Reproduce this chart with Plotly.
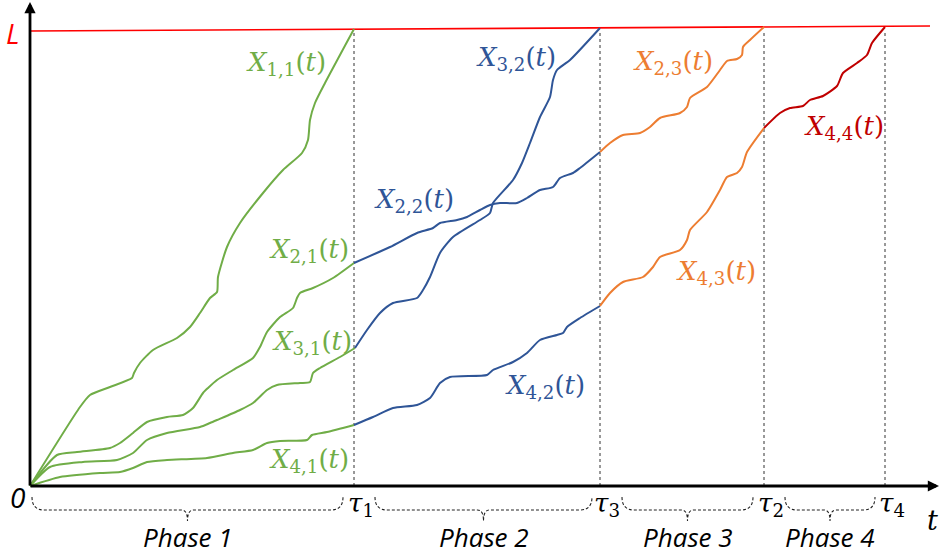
import plotly.graph_objects as go

# ---- data (t, X) ----
L_t = [0, 900]
L_v = [455, 460]

tau_names = ["1", "3", "2", "4"]
tau_vals = [324, 570, 734, 855]

x11_t = [0, 50, 60, 80, 102, 104, 110, 123, 147, 160, 170, 180, 187, 188, 197, 210, 233, 253, 272, 278, 280, 285, 295, 324]
x11_v = [0, 79, 91, 99, 108, 113, 123, 136, 148, 159, 173, 188, 194, 209, 239, 263, 293, 316, 333, 346, 366, 383, 403, 457]

x21_t = [0, 27, 47, 80, 90, 103, 117, 137, 153, 163, 173, 178, 187, 203, 223, 230, 237, 250, 263, 267, 270, 283, 303, 324]
x21_v = [0, 31, 34, 38, 43, 53, 64, 69, 71, 78, 93, 98, 106, 116, 128, 139, 154, 169, 178, 188, 193, 198, 208, 223]

x31_t = [0, 20, 53, 87, 103, 117, 137, 170, 180, 187, 210, 223, 237, 247, 270, 280, 283, 290, 310, 325]
x31_v = [0, 19, 24, 26, 33, 46, 53, 59, 63, 66, 76, 83, 96, 101, 103, 104, 113, 118, 129, 138]

x41_t = [0, 30, 70, 90, 103, 117, 137, 177, 203, 223, 237, 250, 277, 282, 297, 324]
x41_v = [0, 9, 13, 14, 18, 24, 26, 28, 33, 36, 43, 45, 46, 51, 54, 61]

x22_t = [324, 360, 387, 403, 410, 427, 437, 450, 460, 470, 487, 497, 510, 523, 530, 543, 550, 570]
x22_v = [223, 239, 253, 258, 263, 266, 269, 276, 281, 283, 283, 288, 296, 299, 308, 313, 318, 334]

x32_t = [325, 337, 350, 363, 387, 393, 400, 410, 423, 450, 460, 463, 483, 492, 500, 510, 520, 523, 527, 540, 570]
x32_v = [138, 156, 173, 183, 188, 196, 209, 233, 249, 266, 273, 283, 306, 323, 343, 369, 389, 406, 416, 426, 458]

x42_t = [324, 343, 363, 387, 400, 410, 420, 457, 463, 483, 497, 510, 527, 533, 537, 550, 570]
x42_v = [61, 69, 78, 81, 88, 103, 109, 111, 116, 124, 133, 146, 151, 153, 159, 168, 180]

x23_t = [570, 580, 593, 610, 620, 630, 650, 657, 660, 677, 690, 697, 707, 712, 713, 720, 734]
x23_v = [334, 343, 351, 353, 359, 368, 373, 379, 388, 399, 416, 425, 427, 431, 439, 446, 459]

x43_t = [570, 580, 593, 613, 623, 630, 650, 657, 660, 677, 690, 697, 707, 712, 717, 734]
x43_v = [180, 193, 204, 209, 219, 229, 236, 246, 256, 274, 296, 309, 313, 319, 334, 358]

x44_t = [734, 750, 760, 773, 780, 793, 807, 813, 827, 837, 842, 855]
x44_v = [358, 373, 378, 380, 386, 390, 400, 413, 423, 431, 443, 459]

phase_names = ["Phase 1", "Phase 2", "Phase 3", "Phase 4"]
phase_starts = [2, 345, 592, 755]
phase_ends = [313, 562, 723, 845]

GREEN = "#70AD47"
BLUE = "#2F5597"
ORANGE = "#ED7D31"
DRED = "#C00000"
RED = "#FF0000"

curves = [
    (x11_t, x11_v, GREEN), (x21_t, x21_v, GREEN), (x31_t, x31_v, GREEN), (x41_t, x41_v, GREEN),
    (x22_t, x22_v, BLUE), (x32_t, x32_v, BLUE), (x42_t, x42_v, BLUE),
    (x23_t, x23_v, ORANGE), (x43_t, x43_v, ORANGE),
    (x44_t, x44_v, DRED),
]

labels = [
    ("1,1", 256, 423, GREEN), ("2,1", 279, 236, GREEN), ("3,1", 282, 144, GREEN), ("4,1", 279, 26, GREEN),
    ("3,2", 486, 428, BLUE), ("2,2", 384, 286, BLUE), ("4,2", 515, 100, BLUE),
    ("2,3", 643, 424, ORANGE), ("4,3", 686, 214, ORANGE),
    ("4,4", 814, 359, DRED),
]

fig = go.Figure()

fig.add_trace(go.Scatter(x=L_t, y=L_v, mode="lines", line=dict(color=RED, width=1.6),
                         hoverinfo="skip", showlegend=False))

for tv in tau_vals:
    fig.add_trace(go.Scatter(x=[tv, tv], y=[0, 456], mode="lines",
                             line=dict(color="#333333", width=1, dash="dot"),
                             hoverinfo="skip", showlegend=False))

for t, v, c in curves:
    fig.add_trace(go.Scatter(x=t, y=v, mode="lines",
                             line=dict(color=c, width=2, shape="spline", smoothing=0.6),
                             hoverinfo="skip", showlegend=False))

MATH = "DejaVu Serif"
SANS = "Open Sans"
anns = []
for sub, x, y, c in labels:
    anns.append(dict(x=x, y=y, xref="x", yref="y", showarrow=False,
                     text=f"<i>X</i><sub>{sub}</sub>(<i>t</i>)",
                     font=dict(family=MATH, size=26, color=c)))

for name, tv in zip(tau_names, tau_vals):
    anns.append(dict(x=tv + 7, y=-18, xref="x", yref="y", showarrow=False,
                     text=f"<i>τ</i><sub>{name}</sub>",
                     font=dict(family=MATH, size=26, color="black")))

anns.append(dict(x=902, y=-34, xref="x", yref="y", showarrow=False,
                 text="<i>t</i>", font=dict(family=MATH, size=27, color="black")))
anns.append(dict(x=-13, y=-11, xref="x", yref="y", showarrow=False,
                 text="<i>0</i>", font=dict(family=SANS, size=28, color="black")))
anns.append(dict(x=-18, y=453, xref="x", yref="y", showarrow=False,
                 text="<i>L</i>", font=dict(family=SANS, size=28, color=RED)))

for name, a, b in zip(phase_names, phase_starts, phase_ends):
    mid = (a + b) / 2
    anns.append(dict(x=mid, y=-51, xref="x", yref="y", showarrow=False,
                     text=f"<i>{name}</i>", font=dict(family=SANS, size=26, color="black")))

# axes arrows
anns.append(dict(x=909, y=0, ax=-1, ay=0, xref="x", yref="y", axref="x", ayref="y",
                 showarrow=True, arrowhead=2, arrowsize=0.8, arrowwidth=2.8, arrowcolor="black", text=""))
anns.append(dict(x=0, y=484, ax=0, ay=-1, xref="x", yref="y", axref="x", ayref="y",
                 showarrow=True, arrowhead=2, arrowsize=0.8, arrowwidth=2.8, arrowcolor="black", text=""))

shapes = []
top, hor, tip = -11, -24, -35
for a, b in zip(phase_starts, phase_ends):
    mid = (a + b) / 2
    path = (f"M {a},{top} Q {a},{hor} {a+12},{hor} L {mid-6},{hor} "
            f"Q {mid},{hor} {mid},{tip} Q {mid},{hor} {mid+6},{hor} "
            f"L {b-12},{hor} Q {b},{hor} {b},{top}")
    shapes.append(dict(type="path", path=path, xref="x", yref="y",
                       line=dict(color="#222222", width=1.1, dash="3px,2px")))

fig.update_layout(
    width=940, height=556, autosize=False,
    margin=dict(l=0, r=0, t=0, b=0),
    paper_bgcolor="white", plot_bgcolor="white",
    xaxis=dict(range=[-30, 910], visible=False, fixedrange=True),
    yaxis=dict(range=[-70, 486], visible=False, fixedrange=True),
    annotations=anns, shapes=shapes, showlegend=False,
)

fig.write_html("out.html", config={"displayModeBar": False},
               post_script="document.body.style.margin='0';document.body.style.overflow='hidden';")
